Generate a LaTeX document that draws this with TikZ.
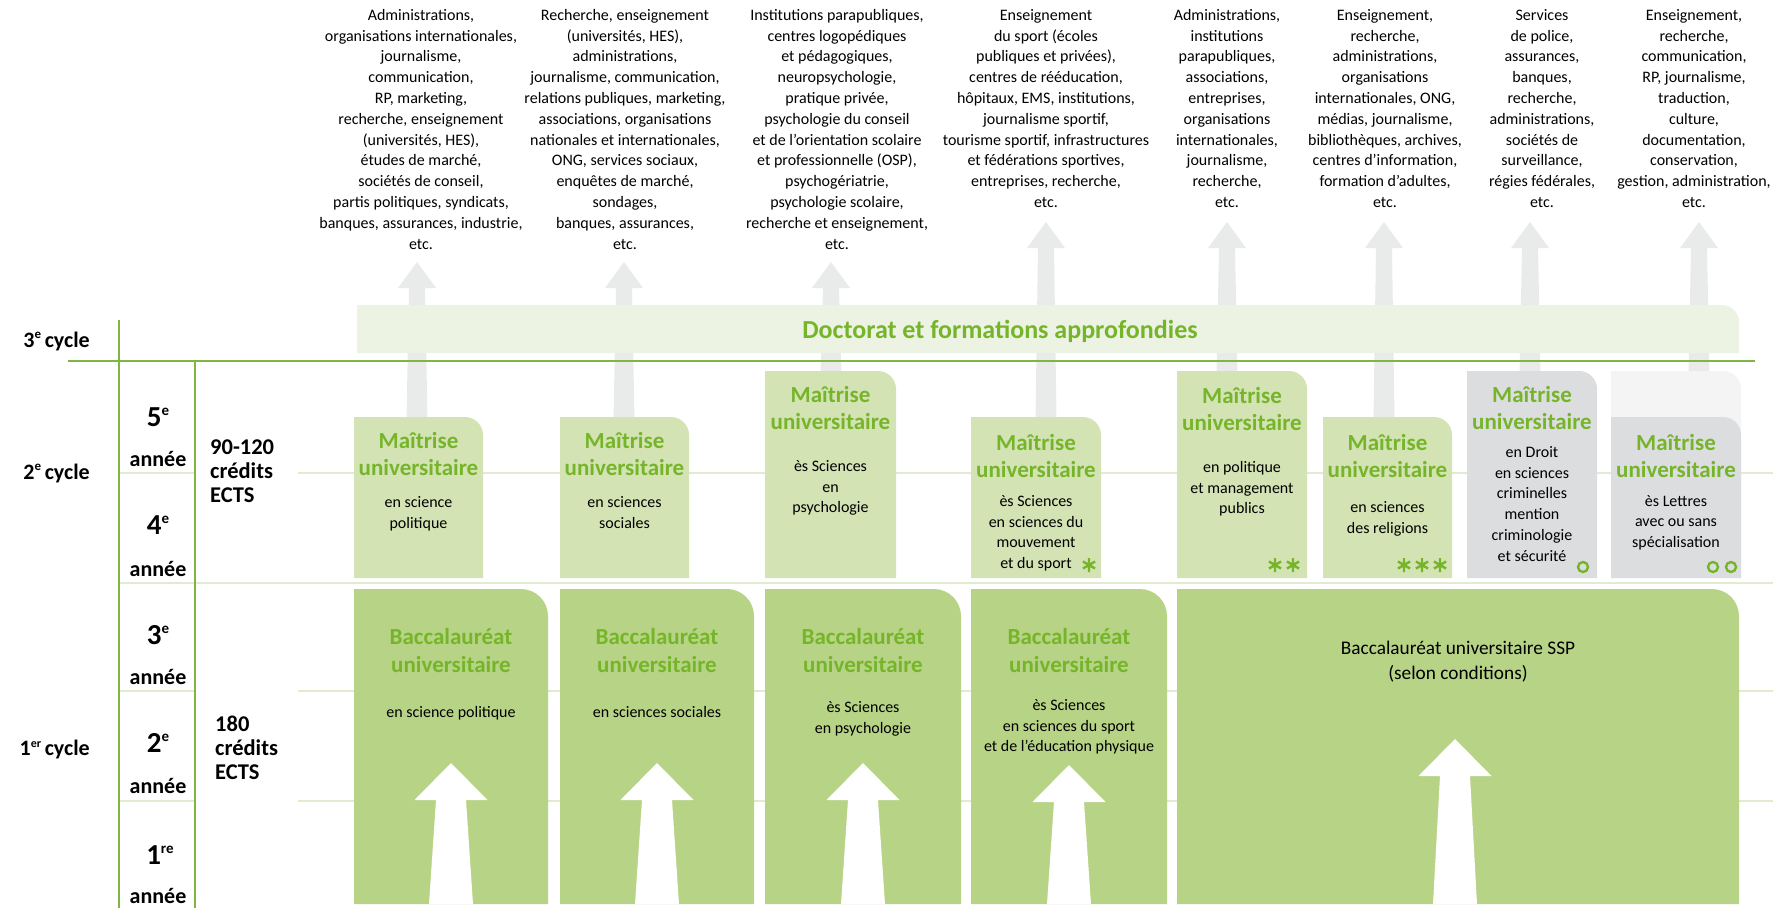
\documentclass[tikz,border=0pt]{standalone}
\usepackage{fontspec}
\setmainfont{Carlito}
\definecolor{gridgreen}{HTML}{80B540}
\definecolor{yearline}{HTML}{E0EBCF}
\definecolor{titlegreen}{HTML}{76B52A}
\definecolor{masterfill}{HTML}{D3E3B4}
\definecolor{bacfill}{HTML}{B7D386}
\definecolor{docfill}{HTML}{ECF3E2}
\definecolor{grayfill}{HTML}{DCDDDF}
\definecolor{paleext}{HTML}{F4F4F4}
\definecolor{arrowgray}{HTML}{E9EAEA}
\newcommand\trbox[6]{\fill[#6] (#1,#4) -- (#1,#2) -- ({#3-#5},#2) .. controls ({#3-0.45*#5},#2) and (#3,{#2+0.45*#5}) .. (#3,{#2+#5}) -- (#3,#4) -- cycle;}
\newcommand\blockarrow[8]{\fill[#8] (#1,#2) -- ({#1+#4},{#2+#3}) -- ({#1+#5},{#2+#3}) -- ({#1+#6},#7) -- ({#1-#6},#7) -- ({#1-#5},{#2+#3}) -- ({#1-#4},{#2+#3}) -- cycle;}
\newcommand\supr[3]{\raisebox{#3pt}{\fontsize{#2}{#2}\selectfont #1}}
\newcommand\astk[2]{\draw[titlegreen,line width=2.4pt] (#1,{#2-7}) -- (#1,{#2+7}) ({#1-6.06},{#2-3.5}) -- ({#1+6.06},{#2+3.5}) ({#1-6.06},{#2+3.5}) -- ({#1+6.06},{#2-3.5});}
\begin{document}
\begin{tikzpicture}[x=1pt,y=-1pt,
  toptext/.style={anchor=north,align=center,inner sep=0pt,font=\fontsize{16}{20.8}\selectfont},
  boxtitle/.style={anchor=north,align=center,inner sep=0pt,text=titlegreen,font=\bfseries\fontsize{23}{27}\selectfont},
  bactitle/.style={anchor=north,align=center,inner sep=0pt,text=titlegreen,font=\bfseries\fontsize{23}{28}\selectfont},
  boxbody/.style={anchor=north,align=center,inner sep=0pt,font=\fontsize{16}{20.8}\selectfont},
  cyclelbl/.style={anchor=base east,inner sep=0pt,font=\bfseries\fontsize{22}{24}\selectfont},
  yearnum/.style={anchor=base,inner sep=0pt,font=\bfseries\fontsize{29}{30}\selectfont},
  yearword/.style={anchor=base,inner sep=0pt,font=\bfseries\fontsize{22}{24}\selectfont},
  credits/.style={anchor=north west,align=left,inner sep=0pt,font=\bfseries\fontsize{22.5}{24}\selectfont},
  gridline/.style={gridgreen,line width=2pt},
  yline/.style={yearline,line width=1.5pt},
  ringmark/.style={draw=titlegreen,line width=2.4pt},
]
\useasboundingbox (0,0) rectangle (1773,908);

% year separator lines
\draw[yline] (119,473) -- (195,473) (298,473) -- (1773,473);
\draw[yearline,line width=2.5pt] (119,583) -- (1773,583);
\draw[yline] (119,691) -- (195,691) (298,691) -- (1773,691);
\draw[yline] (119,801) -- (195,801) (298,801) -- (1773,801);

% gray career arrows
\blockarrow{417}{262}{26}{19}{8}{10.5}{420}{arrowgray}
\blockarrow{624}{262}{26}{19}{8}{10.5}{420}{arrowgray}
\blockarrow{831}{262}{26}{19}{8}{10.5}{374}{arrowgray}
\blockarrow{1046}{222}{26}{19}{8}{10.5}{420}{arrowgray}
\blockarrow{1227}{222}{26}{19}{8}{10.5}{374}{arrowgray}
\blockarrow{1384}{222}{26}{19}{8}{10.5}{420}{arrowgray}
\blockarrow{1530}{222}{26}{19}{8}{10.5}{374}{arrowgray}
\blockarrow{1699}{222}{26}{19}{8}{10.5}{374}{arrowgray}

% doctorate band
\trbox{357}{305}{1739}{353}{17}{docfill}

% master boxes
\trbox{354}{417}{483}{578}{18}{masterfill}
\trbox{560}{417}{689}{578}{18}{masterfill}
\trbox{765}{371}{896}{578}{18}{masterfill}
\trbox{971}{417}{1101}{578}{18}{masterfill}
\trbox{1177}{371}{1307}{578}{18}{masterfill}
\trbox{1323}{417}{1452}{578}{18}{masterfill}
\trbox{1467}{371}{1597}{578}{18}{grayfill}
\trbox{1611}{371}{1741}{578}{18}{paleext}
\trbox{1611}{417}{1741}{578}{18}{grayfill}

% bachelor boxes
\trbox{354}{589}{548}{904}{27}{bacfill}
\trbox{560}{589}{754}{904}{27}{bacfill}
\trbox{765}{589}{961}{904}{27}{bacfill}
\trbox{971}{589}{1167}{904}{27}{bacfill}
\trbox{1177}{589}{1739}{904}{27}{bacfill}

% white arrows
\blockarrow{451}{763}{37}{36.5}{15}{22}{904}{white}
\blockarrow{657}{763}{37}{36.5}{15}{22}{904}{white}
\blockarrow{863}{763}{37}{36.5}{15}{22}{904}{white}
\blockarrow{1069}{765}{37}{36.5}{15}{22}{904}{white}
\blockarrow{1455}{739}{37}{36.5}{15}{22}{904}{white}

% grid lines
\draw[gridline] (68,361) -- (1755,361);
\draw[gridline] (119,320) -- (119,908);
\draw[gridline] (195,361) -- (195,908);

% top texts
\node[toptext] (t1) at (421,9) {Administrations,\\organisations internationales,\\journalisme,\\communication,\\RP, marketing,\\recherche, enseignement\\(universités, HES),\\études de marché,\\sociétés de conseil,\\partis politiques, syndicats,\\banques, assurances, industrie,\\etc.};
\node[toptext] (t2) at (625,9) {Recherche, enseignement\\(universités, HES),\\administrations,\\journalisme, communication,\\relations publiques, marketing,\\associations, organisations\\nationales et internationales,\\ONG, services sociaux,\\enquêtes de marché,\\sondages,\\banques, assurances,\\etc.};
\node[toptext] (t3) at (837,9) {Institutions parapubliques,\\centres logopédiques\\et pédagogiques,\\neuropsychologie,\\pratique privée,\\psychologie du conseil\\et de l’orientation scolaire\\et professionnelle (OSP),\\psychogériatrie,\\psychologie scolaire,\\recherche et enseignement,\\etc.};
\node[toptext] (t4) at (1046,9) {Enseignement\\du sport (écoles\\publiques et privées),\\centres de rééducation,\\hôpitaux, EMS, institutions,\\journalisme sportif,\\tourisme sportif, infrastructures\\et fédérations sportives,\\entreprises, recherche,\\etc.};
\node[toptext] (t5) at (1227,9) {Administrations,\\institutions\\parapubliques,\\associations,\\entreprises,\\organisations\\internationales,\\journalisme,\\recherche,\\etc.};
\node[toptext] (t6) at (1385,9) {Enseignement,\\recherche,\\administrations,\\organisations\\internationales, ONG,\\médias, journalisme,\\bibliothèques, archives,\\centres d’information,\\formation d’adultes,\\etc.};
\node[toptext] (t7) at (1542,9) {Services\\de police,\\assurances,\\banques,\\recherche,\\administrations,\\sociétés de\\surveillance,\\régies fédérales,\\etc.};
\node[toptext] (t8) at (1694,9) {Enseignement,\\recherche,\\communication,\\RP, journalisme,\\traduction,\\culture,\\documentation,\\conservation,\\gestion, administration,\\etc.};

% doctorate
\node[anchor=base,inner sep=0pt,text=titlegreen,font=\bfseries\fontsize{26}{28}\selectfont] (doc) at (1000,338) {Doctorat et formations approfondies};

% left labels
\node[cyclelbl] (c3) at (90,347) {3\supr{e}{13}{9}\,cycle};
\node[cyclelbl] (c2) at (90,479) {2\supr{e}{13}{9}\,cycle};
\node[cyclelbl] (c1) at (90,755) {1\supr{er}{12}{8}\,cycle};

\node[yearnum] (y5) at (158,426) {5\supr{e}{15}{11}};
\node[yearword] (y5w) at (158,466) {année};
\node[yearnum] (y4) at (158,534) {4\supr{e}{15}{11}};
\node[yearword] (y4w) at (158,576) {année};
\node[yearnum] (y3) at (158,644) {3\supr{e}{15}{11}};
\node[yearword] (y3w) at (158,684) {année};
\node[yearnum] (y2) at (158,752) {2\supr{e}{15}{11}};
\node[yearword] (y2w) at (158,793) {année};
\node[yearnum] (y1) at (160,864) {1\supr{re}{15}{11}};
\node[yearword] (y1w) at (158,903) {année};

\node[credits] (cr2) at (210,440) {90-120\\crédits\\ECTS};
\node[credits] (cr1) at (215,716) {180\\crédits\\ECTS};

% master texts
\node[boxtitle] (mA) at (418.5,432) {Maîtrise\\universitaire};
\node[boxbody] (bA) at (418.5,496) {en science\\politique};
\node[boxtitle] (mB) at (624.5,432) {Maîtrise\\universitaire};
\node[boxbody] (bB) at (624.5,496) {en sciences\\sociales};
\node[boxtitle] (mC) at (830.5,386) {Maîtrise\\universitaire};
\node[boxbody] (bC) at (830.5,460) {ès Sciences\\en\\psychologie};
\node[boxtitle] (mD) at (1036,434) {Maîtrise\\universitaire};
\node[boxbody] (bD) at (1036,495) {ès Sciences\\en sciences du\\mouvement\\et du sport};
\node[boxtitle] (mE) at (1242,387) {Maîtrise\\universitaire};
\node[boxbody] (bE) at (1242,461) {en politique\\et management\\publics};
\node[boxtitle] (mF) at (1387.5,434) {Maîtrise\\universitaire};
\node[boxbody] (bF) at (1387.5,501) {en sciences\\des religions};
\node[boxtitle] (mG) at (1532,386) {Maîtrise\\universitaire};
\node[boxbody] (bG) at (1532,446) {en Droit\\en sciences\\criminelles\\mention\\criminologie\\et sécurité};
\node[boxtitle] (mH) at (1676,434) {Maîtrise\\universitaire};
\node[boxbody] (bH) at (1676,495) {ès Lettres\\avec ou sans\\spécialisation};

% marks
\astk{1089}{565}
\astk{1275}{565}\astk{1293}{565}
\astk{1404}{565}\astk{1422}{565}\astk{1440}{565}
\draw[ringmark] (1583,567) circle[radius=5];
\draw[ringmark] (1713,567) circle[radius=5];
\draw[ringmark] (1731,567) circle[radius=5];

% bachelor texts
\node[bactitle] (ba1) at (451,628) {Baccalauréat\\universitaire};
\node[boxbody] (bb1) at (451,706) {en science politique};
\node[bactitle] (ba2) at (657,628) {Baccalauréat\\universitaire};
\node[boxbody] (bb2) at (657,706) {en sciences sociales};
\node[bactitle] (ba3) at (863,628) {Baccalauréat\\universitaire};
\node[boxbody] (bb3) at (863,701) {ès Sciences\\en psychologie};
\node[bactitle] (ba4) at (1069,628) {Baccalauréat\\universitaire};
\node[boxbody] (bb4) at (1069,699) {ès Sciences\\en sciences du sport\\et de l’éducation physique};
\node[anchor=north,align=center,inner sep=0pt,font=\fontsize{19.3}{25}\selectfont] (ssp) at (1458,641) {Baccalauréat universitaire SSP\\(selon conditions)};
\end{tikzpicture}
\end{document}
